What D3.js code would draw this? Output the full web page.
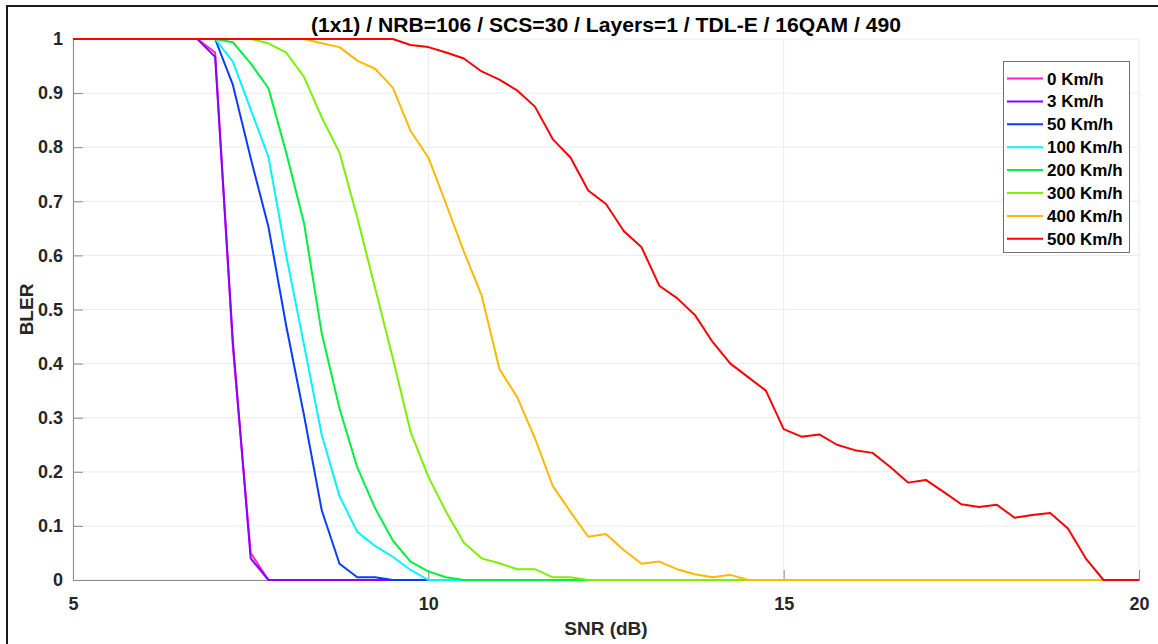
<!DOCTYPE html>
<html>
<head>
<meta charset="utf-8">
<script src="https://cdn.jsdelivr.net/npm/d3@7"></script>
<style>
  html, body { margin: 0; padding: 0; background: #ffffff; }
  svg { display: block; font-family: "Liberation Sans", Arial, sans-serif; }
</style>
</head>
<body>
<svg id="chart" width="1158" height="644"></svg>
<script>
// SNR grid (dB), 0.25 dB steps
const snr = [
  5, 5.25, 5.5, 5.75, 6, 6.25, 6.5, 6.75, 7, 7.25, 7.5, 7.75,
  8, 8.25, 8.5, 8.75, 9, 9.25, 9.5, 9.75, 10, 10.25, 10.5, 10.75,
  11, 11.25, 11.5, 11.75, 12, 12.25, 12.5, 12.75, 13, 13.25, 13.5, 13.75,
  14, 14.25, 14.5, 14.75, 15, 15.25, 15.5, 15.75, 16, 16.25, 16.5, 16.75,
  17, 17.25, 17.5, 17.75, 18, 18.25, 18.5, 18.75, 19, 19.25, 19.5, 19.75, 20
];

const speedLabels = ["0 Km/h", "3 Km/h", "50 Km/h", "100 Km/h", "200 Km/h", "300 Km/h", "400 Km/h", "500 Km/h"];
const speedColors = ["#ff1fd0", "#8a00ff", "#0a3cff", "#00f4ff", "#00f040", "#7cf000", "#ffb800", "#ff0000"];

// BLER per speed, one row per dB (x.00, x.25, x.50, x.75)
const bler0 = [
  1, 1, 1, 1,
  1, 1, 1, 1,
  0.975, 0.43, 0.05, 0,
  0, 0, 0, 0,  0, 0, 0, 0,  0, 0, 0, 0,  0, 0, 0, 0,  0, 0, 0, 0,  0, 0, 0, 0,
  0, 0, 0, 0,  0, 0, 0, 0,  0, 0, 0, 0,  0, 0, 0, 0,  0, 0, 0, 0,  0, 0, 0, 0,
  0
];
const bler3 = [
  1, 1, 1, 1,
  1, 1, 1, 1,
  0.967, 0.44, 0.04, 0,
  0, 0, 0, 0,  0, 0, 0, 0,  0, 0, 0, 0,  0, 0, 0, 0,  0, 0, 0, 0,  0, 0, 0, 0,
  0, 0, 0, 0,  0, 0, 0, 0,  0, 0, 0, 0,  0, 0, 0, 0,  0, 0, 0, 0,  0, 0, 0, 0,
  0
];
const bler50 = [
  1, 1, 1, 1,
  1, 1, 1, 1,
  1, 0.915, 0.78, 0.653,
  0.47, 0.305, 0.129, 0.03,
  0.005, 0.005, 0, 0,
  0, 0, 0, 0,  0, 0, 0, 0,  0, 0, 0, 0,  0, 0, 0, 0,  0, 0, 0, 0,
  0, 0, 0, 0,  0, 0, 0, 0,  0, 0, 0, 0,  0, 0, 0, 0,  0, 0, 0, 0,
  0
];
const bler100 = [
  1, 1, 1, 1,
  1, 1, 1, 1,
  1, 0.958, 0.87, 0.782,
  0.60, 0.435, 0.268, 0.155,
  0.089, 0.063, 0.043, 0.0185,
  0, 0, 0, 0,  0, 0, 0, 0,  0, 0, 0, 0,  0, 0, 0, 0,  0, 0, 0, 0,
  0, 0, 0, 0,  0, 0, 0, 0,  0, 0, 0, 0,  0, 0, 0, 0,  0, 0, 0, 0,
  0
];
const bler200 = [
  1, 1, 1, 1,
  1, 1, 1, 1,
  1, 0.994, 0.955, 0.909,
  0.79, 0.66, 0.456, 0.317,
  0.208, 0.133, 0.073, 0.034,
  0.016, 0.005, 0, 0,
  0, 0, 0, 0,  0, 0, 0, 0,  0, 0, 0, 0,  0, 0, 0, 0,
  0, 0, 0, 0,  0, 0, 0, 0,  0, 0, 0, 0,  0, 0, 0, 0,  0, 0, 0, 0,
  0
];
const bler300 = [
  1, 1, 1, 1,
  1, 1, 1, 1,
  1, 1, 1, 0.992,
  0.975, 0.93, 0.855, 0.79,
  0.67, 0.54, 0.41, 0.274,
  0.191, 0.126, 0.069, 0.04,
  0.031, 0.02, 0.02, 0.005,
  0.005, 0, 0, 0,
  0, 0, 0, 0,  0, 0, 0, 0,
  0, 0, 0, 0,  0, 0, 0, 0,  0, 0, 0, 0,  0, 0, 0, 0,  0, 0, 0, 0,
  0
];
const bler400 = [
  1, 1, 1, 1,
  1, 1, 1, 1,
  1, 1, 1, 1,
  1, 1, 0.992, 0.985,
  0.96, 0.945, 0.91, 0.83,
  0.781, 0.695, 0.607, 0.526,
  0.39, 0.338, 0.262, 0.174,
  0.126, 0.08, 0.085, 0.0555,
  0.03, 0.034, 0.02, 0.0105,
  0.005, 0.0095, 0, 0,
  0, 0, 0, 0,  0, 0, 0, 0,  0, 0, 0, 0,  0, 0, 0, 0,  0, 0, 0, 0,
  0
];
const bler500 = [
  1, 1, 1, 1,
  1, 1, 1, 1,
  1, 1, 1, 1,
  1, 1, 1, 1,
  1, 1, 1, 0.989,
  0.985, 0.975, 0.964, 0.94,
  0.925, 0.905, 0.875, 0.815,
  0.781, 0.72, 0.695, 0.645,
  0.615, 0.544, 0.521, 0.49,
  0.44, 0.40, 0.375, 0.35,
  0.279, 0.265, 0.269, 0.25,
  0.24, 0.235, 0.209, 0.18,
  0.185, 0.163, 0.14, 0.135,
  0.139, 0.115, 0.12, 0.124,
  0.095, 0.04, 0, 0,
  0
];
const blerSeries = [bler0, bler3, bler50, bler100, bler200, bler300, bler400, bler500];

const xTicks = [5, 10, 15, 20];
const yTicks = [0, 0.1, 0.2, 0.3, 0.4, 0.5, 0.6, 0.7, 0.8, 0.9, 1];

const titleText = "(1x1) / NRB=106 / SCS=30 / Layers=1 / TDL-E / 16QAM / 490";
const xLabel = "SNR (dB)";
const yLabel = "BLER";

const svg = d3.select("#chart");
const W = 1158, H = 644;
const plot = { left: 73, right: 1139, top: 39, bottom: 580 };

const x = d3.scaleLinear().domain([5, 20]).range([plot.left, plot.right]);
const y = d3.scaleLinear().domain([0, 1]).range([plot.bottom, plot.top]);

const textColor = "#262626";
const axisColor = "#8c8c8c";

// figure frame
svg.append("line").attr("x1", 7).attr("x2", 7).attr("y1", 6).attr("y2", H)
  .attr("stroke", "#1a1a1a").attr("stroke-width", 2);
svg.append("line").attr("x1", 6).attr("x2", W).attr("y1", 6).attr("y2", 6)
  .attr("stroke", "#1a1a1a").attr("stroke-width", 2);

// grid
const grid = svg.append("g");
grid.selectAll("line.gx").data(xTicks).join("line")
  .attr("x1", d => x(d)).attr("x2", d => x(d))
  .attr("y1", plot.top).attr("y2", plot.bottom)
  .attr("stroke", "#ebebeb").attr("stroke-width", 1);
grid.selectAll("line.gy").data(yTicks).join("line")
  .attr("x1", plot.left).attr("x2", plot.right)
  .attr("y1", d => y(d)).attr("y2", d => y(d))
  .attr("stroke", "#ebebeb").attr("stroke-width", 1);

// axes
const xAxis = d3.axisBottom(x).tickValues(xTicks).tickSize(-10).tickPadding(17).tickFormat(d3.format("d"));
const yAxis = d3.axisLeft(y).tickValues(yTicks).tickSize(-10).tickPadding(20).tickFormat(d => d === 0 ? "0" : d === 1 ? "1" : d3.format(".1f")(d));

const gx = svg.append("g").attr("transform", `translate(0,${plot.bottom})`).call(xAxis);
const gy = svg.append("g").attr("transform", `translate(${plot.left},0)`).call(yAxis);
[gx, gy].forEach(g => {
  g.select(".domain").attr("stroke", axisColor).attr("stroke-width", 1);
  g.selectAll(".tick line").attr("stroke", axisColor);
  g.selectAll(".tick text").attr("fill", textColor)
    .style("font-family", "'Liberation Sans', Arial, sans-serif")
    .style("font-weight", "bold").style("font-size", "18px");
});
gy.selectAll(".tick text").attr("dx", 10);

// series lines
const line = d3.line().x((d, i) => x(snr[i])).y(d => y(d));
svg.append("g").selectAll("path").data(blerSeries).join("path")
  .attr("d", d => line(d))
  .attr("fill", "none")
  .attr("stroke", (d, i) => speedColors[i])
  .attr("stroke-width", 2)
  .attr("stroke-linejoin", "round");

// title and axis labels
svg.append("text").attr("x", (plot.left + plot.right) / 2).attr("y", 32)
  .attr("text-anchor", "middle").attr("fill", "#000")
  .attr("textLength", 590).attr("lengthAdjust", "spacingAndGlyphs")
  .style("font-weight", "bold").style("font-size", "21px")
  .text(titleText);
svg.append("text").attr("x", (plot.left + plot.right) / 2).attr("y", 635)
  .attr("text-anchor", "middle").attr("fill", textColor)
  .style("font-weight", "bold").style("font-size", "19px")
  .text(xLabel);
svg.append("text").attr("transform", `translate(33,${(plot.top + plot.bottom) / 2}) rotate(-90)`)
  .attr("text-anchor", "middle").attr("fill", textColor)
  .style("font-weight", "bold").style("font-size", "19px")
  .text(yLabel);

// legend
const lg = svg.append("g");
lg.append("rect").attr("x", 1003.5).attr("y", 61.5).attr("width", 126).attr("height", 191)
  .attr("fill", "#fff").attr("stroke", "#707070").attr("stroke-width", 1);
const rows = lg.selectAll("g.row").data(speedLabels).join("g")
  .attr("transform", (d, i) => `translate(0,${78.5 + i * 22.9})`);
rows.append("line").attr("x1", 1007).attr("x2", 1043).attr("y1", 0).attr("y2", 0)
  .attr("stroke", (d, i) => speedColors[i]).attr("stroke-width", 2);
rows.append("text").attr("x", 1047).attr("y", 6)
  .attr("fill", "#000").style("font-weight", "bold").style("font-size", "17px")
  .text(d => d);
</script>
</body>
</html>
